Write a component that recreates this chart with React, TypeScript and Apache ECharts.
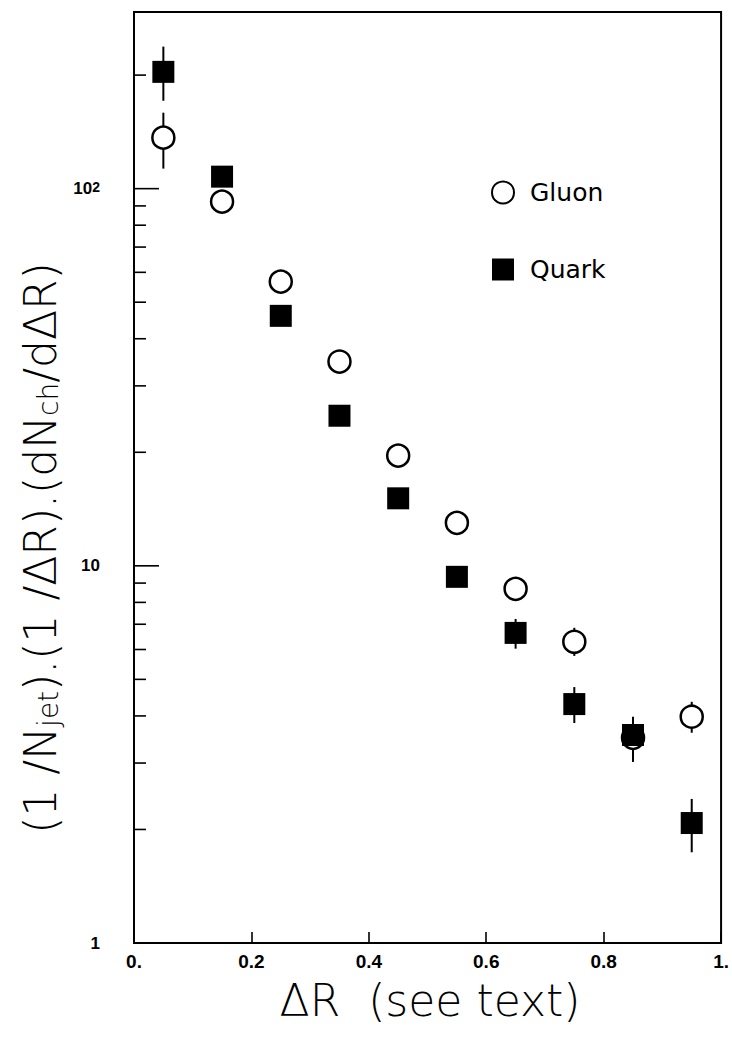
import React, { useEffect, useRef } from "react";
import * as echarts from "echarts";

// Bin centres in ΔR
const binCenters = [0.05, 0.15, 0.25, 0.35, 0.45, 0.55, 0.65, 0.75, 0.85, 0.95];

// Gluon jets: value and error-bar limits
const gluonValues = [136.5, 92.4, 56.7, 34.8, 19.6, 13.0, 8.69, 6.29, 3.5, 3.98];
const gluonLow = [113, 89, 54.5, 33.5, 18.9, 12.5, 8.35, 5.77, 3.3, 3.61];
const gluonHigh = [159, 96, 59, 36.2, 20.4, 13.5, 9.05, 6.85, 3.72, 4.36];

// Quark jets: value and error-bar limits
const quarkValues = [204, 107.6, 46.0, 25.0, 15.1, 9.35, 6.64, 4.3, 3.56, 2.08];
const quarkLow = [171, 103.5, 44.3, 24.1, 14.5, 8.9, 6.03, 3.83, 3.02, 1.74];
const quarkHigh = [238, 111.5, 47.7, 26.0, 15.7, 9.8, 7.23, 4.77, 3.98, 2.41];

// Axis ranges and ticks
const xMin = 0;
const xMax = 1;
const xInterval = 0.2;
const yMin = 1;
const yMax = 294;
const yMajorTicks = [1, 10, 100];
const yMinorTicks = [2, 3, 4, 5, 6, 7, 8, 9, 20, 30, 40, 50, 60, 70, 80, 90, 200];

const errorRenderer = (params: any, api: any) => {
  const p1 = api.coord([api.value(0), api.value(1)]);
  const p2 = api.coord([api.value(0), api.value(2)]);
  return {
    type: "line",
    shape: { x1: p1[0], y1: p1[1], x2: p2[0], y2: p2[1] },
    style: { stroke: "#000", lineWidth: 2 },
  };
};

const tickRenderer = (params: any, api: any) => {
  const p = api.coord([xMin, api.value(1)]);
  const len = api.value(2);
  return {
    type: "line",
    shape: { x1: p[0], y1: p[1], x2: p[0] + len, y2: p[1] },
    style: { stroke: "#000", lineWidth: 1.6 },
  };
};

export default function App() {
  const ref = useRef<HTMLDivElement>(null);

  useEffect(() => {
    if (!ref.current) return;
    const chart = echarts.init(ref.current, undefined, { renderer: "svg" });

    const tickData = [
      ...yMajorTicks.map((v) => [xMin, v, 25]),
      ...yMinorTicks.map((v) => [xMin, v, 12]),
    ];

    chart.setOption({
      animation: false,
      backgroundColor: "#fff",
      grid: {
        left: 134,
        right: 5,
        top: 12,
        bottom: 98,
        show: true,
        borderColor: "#000",
        borderWidth: 2,
        backgroundColor: "transparent",
      },
      legend: {
        orient: "vertical",
        left: 486,
        top: 175,
        itemWidth: 22,
        itemHeight: 22,
        itemGap: 52,
        selectedMode: false,
        data: ["Gluon", "Quark"],
        textStyle: {
          fontFamily: "DejaVu Sans",
          fontSize: 25,
          color: "#000",
          padding: [0, 0, 0, 11],
        },
      },
      xAxis: {
        type: "value",
        min: xMin,
        max: xMax,
        interval: xInterval,
        axisLine: { show: true, lineStyle: { color: "#000", width: 2 } },
        axisTick: { show: true, inside: true, length: 11, lineStyle: { color: "#000", width: 1.6 } },
        splitLine: { show: false },
        axisLabel: {
          color: "#000",
          fontFamily: "Liberation Sans",
          fontWeight: "bold",
          fontSize: 19,
          margin: 9,
          formatter: (v: number) => (v === 0 ? "0." : v === 1 ? "1." : v.toFixed(1)),
        },
      },
      yAxis: {
        type: "log",
        logBase: 10,
        min: yMin,
        max: yMax,
        axisLine: { show: true, lineStyle: { color: "#000", width: 2 } },
        axisTick: { show: false },
        splitLine: { show: false },
        axisLabel: {
          color: "#000",
          fontFamily: "Liberation Sans",
          fontWeight: "bold",
          fontSize: 17,
          margin: 34,
          showMaxLabel: false,
          formatter: (v: number) => {
            const r = Math.round(v);
            if (r === 1) return "1";
            if (r === 10) return "10";
            if (r === 100) return "10{sup|2}";
            return "";
          },
          rich: {
            sup: {
              fontFamily: "Liberation Sans",
              fontWeight: "bold",
              fontSize: 14,
              lineHeight: 10,
              verticalAlign: "top",
              color: "#000",
            },
          },
        },
      },
      series: [
        {
          name: "ticks",
          type: "custom",
          silent: true,
          renderItem: tickRenderer,
          data: tickData,
          encode: { x: 0, y: 1 },
          z: 5,
        },
        {
          name: "gluonErr",
          type: "custom",
          silent: true,
          renderItem: errorRenderer,
          data: binCenters.map((x, i) => [x, gluonLow[i], gluonHigh[i]]),
          encode: { x: 0, y: [1, 2] },
          z: 2,
        },
        {
          name: "quarkErr",
          type: "custom",
          silent: true,
          renderItem: errorRenderer,
          data: binCenters.map((x, i) => [x, quarkLow[i], quarkHigh[i]]),
          encode: { x: 0, y: [1, 2] },
          z: 2,
        },
        {
          name: "Gluon",
          type: "scatter",
          symbol: "circle",
          symbolSize: 22,
          itemStyle: { color: "#fff", borderColor: "#000", borderWidth: 2.5, opacity: 1 },
          data: binCenters.map((x, i) => [x, gluonValues[i]]),
          z: 3,
        },
        {
          name: "Quark",
          type: "scatter",
          symbol: "rect",
          symbolSize: 22,
          itemStyle: { color: "#000", opacity: 1 },
          data: binCenters.map((x, i) => [x, quarkValues[i]]),
          z: 4,
        },
      ],
      graphic: [
        {
          type: "text",
          x: 430,
          y: 1000,
          style: {
            text: "ΔR  (see text)",
            fill: "#000",
            font: '200 44px "DejaVu Sans"',
            textAlign: "center",
            textVerticalAlign: "middle",
            align: "center",
            verticalAlign: "middle",
          },
        },
        {
          type: "text",
          x: 40,
          y: 548,
          rotation: Math.PI / 2,
          style: {
            text: "(1 /N{sub|jet}).(1 /ΔR).(dN{sub|ch}/dΔR)",
            fill: "#000",
            font: '200 44px "DejaVu Sans"',
            textAlign: "center",
            textVerticalAlign: "middle",
            align: "center",
            verticalAlign: "middle",
            rich: {
              sub: {
                fontFamily: "DejaVu Sans",
                fontWeight: 200,
                fontSize: 28,
                lineHeight: 4,
                verticalAlign: "bottom",
              },
            },
          },
        },
      ],
    });

    return () => chart.dispose();
  }, []);

  return (
    <div
      ref={ref}
      style={{ position: "fixed", left: 0, top: 0, width: 732, height: 1041, background: "#fff" }}
    />
  );
}
